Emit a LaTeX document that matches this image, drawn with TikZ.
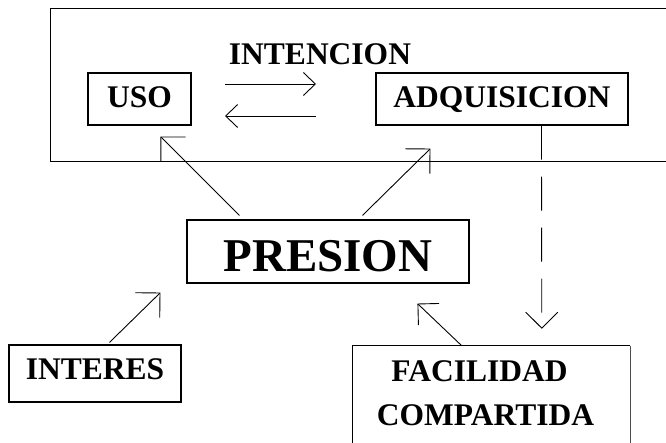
\documentclass[tikz,border=0pt]{standalone}
\usepackage{fontspec}
\setmainfont{Liberation Serif}
\usetikzlibrary{arrows.meta,calc}
\begin{document}
\begin{tikzpicture}[x=1pt,y=-1pt,
  txt/.style={font=\fontsize{31.5}{44}\selectfont\bfseries},
  box/.style={txt,draw,line width=1.1pt,inner sep=0pt},
  edge/.style={line width=1.1pt},
  conn/.style={line width=0.9pt},
  bighead/.style={conn,-{Straight Barb[length=17.5pt,width=35pt,line width=0.9pt]}},
  midhead/.style={conn,-{Straight Barb[length=15pt,width=30pt,line width=0.9pt]}},
  smallhead/.style={conn,-{Straight Barb[length=12pt,width=23pt,line width=0.9pt]}},
  dashhead/.style={conn,dash pattern=on 34pt off 17pt,-{Straight Barb[length=16pt,width=32pt,line width=0.9pt]}}
]
\useasboundingbox (0,0) rectangle (666,443);

\node[inner sep=0pt,minimum width=615pt,minimum height=152pt] (frame) at (358.5,85) {};
\draw[edge] ([xshift=10pt]frame.north east) -- (frame.north west) -- (frame.south west) -- ([xshift=10pt]frame.south east);
\draw[line width=0.6pt,black!25] ([yshift=-28pt]frame.north east) -- ([yshift=-62pt]frame.north east);

\node[txt,inner sep=0pt] (int) at (320,54) {INTENCION};
\node[box,minimum width=103pt,minimum height=52pt,text height=21pt,text depth=4pt] (uso) at (139.5,99) {USO};
\node[box,minimum width=252pt,minimum height=52pt,text height=21pt,text depth=4pt] (adq) at (502,99) {ADQUISICION};
\node[box,minimum width=282pt,minimum height=63pt,font=\fontsize{47}{52}\selectfont\bfseries,text height=40pt,text depth=0pt] (pres) at (328,251.5) {PRESION};
\node[box,minimum width=172pt,minimum height=57pt,text height=21pt,text depth=9pt] (inter) at (95,373.5) {INTERES};
\node[txt,inner sep=0pt,align=center,minimum width=277pt,minimum height=94pt] (fac) at (491.5,393) {FACILIDAD\hspace*{24pt}\\COMPARTIDA\hspace*{12pt}};
\draw[edge] ([yshift=-20pt]fac.south west) -- (fac.north west) -- (fac.north east);
\draw[line width=0.9pt,black!70] (fac.north east) -- ([yshift=-20pt]fac.south east);

\coordinate (r1s) at (225,84);
\coordinate (r1e) at (316,84);
\coordinate (l1s) at (316,116);
\coordinate (l1e) at (225,116);
\draw[smallhead] (r1s) -- (r1e);
\draw[smallhead] (l1s) -- (l1e);

\draw[bighead] ($(pres.north west)+(53,-4)$) -- ($(uso.south west)+(73,11)$);
\draw[bighead] ($(pres.north west)+(176,-4)$) -- ($(adq.south west)+(55,23)$);
\draw[bighead] ($(inter.north west)+(101,-2)$) -- ($(pres.south west)+(-26,9)$);
\draw[midhead] ($(fac.north west)+(109,0)$) -- ($(pres.south west)+(231,20)$);
\draw[dashhead] ($(adq.south west)+(166,0)$) -- ($(fac.north west)+(189,-17)$);
\end{tikzpicture}
\end{document}
